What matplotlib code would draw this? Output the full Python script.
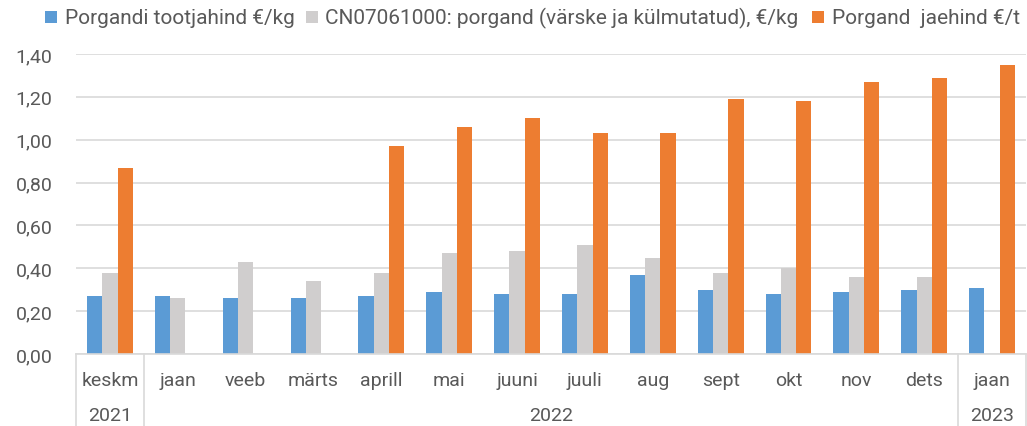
import matplotlib
matplotlib.use("Agg")
import matplotlib.pyplot as plt
import matplotlib.patches as mpatches
import matplotlib.transforms as mtransforms
import numpy as np

months = ["keskm", "jaan", "veeb", "märts", "aprill", "mai", "juuni", "juuli",
          "aug", "sept", "okt", "nov", "dets", "jaan"]
years = ["2021", "2022", "2023"]
year_centers = [0, 6.5, 13]
year_bounds = [-0.5, 0.5, 12.5, 13.5]

producer = [0.27, 0.27, 0.26, 0.26, 0.27, 0.29, 0.28, 0.28, 0.37, 0.30, 0.28, 0.29, 0.30, 0.31]
cn_price = [0.38, 0.26, 0.43, 0.34, 0.38, 0.47, 0.48, 0.51, 0.45, 0.38, 0.40, 0.36, 0.36, np.nan]
retail = [0.87, np.nan, np.nan, np.nan, 0.97, 1.06, 1.10, 1.03, 1.03, 1.19, 1.18, 1.27, 1.29, 1.35]

series_names = ["Porgandi tootjahind €/kg",
                "CN07061000: porgand (värske ja külmutatud), €/kg",
                "Porgand  jaehind €/t"]
colors = ["#5B9BD5", "#D0CECE", "#ED7D31"]

plt.rcParams['font.family'] = ['Roboto', 'DejaVu Sans']
txt = "#595959"
grid = "#D9D9D9"

W, H = 1027, 427
fig = plt.figure(figsize=(W / 100, H / 100), dpi=100)
ax = fig.add_axes([76 / W, 72 / H, 950 / W, 300 / H])

x = np.arange(len(months))
w = 0.225
for off, vals, c in zip([-w, 0, w], [producer, cn_price, retail], colors):
    ax.bar(x + off, vals, width=w, color=c, linewidth=0, zorder=3)

ax.set_xlim(-0.5, 13.5)
ax.set_ylim(0, 1.4)
ax.set_yticks(np.arange(0, 1.41, 0.2))
ax.set_yticklabels([f"{v:.2f}".replace(".", ",") for v in np.arange(0, 1.41, 0.2)])
ax.tick_params(axis='y', length=0, pad=17, labelsize=14, labelcolor=txt)
ax.set_xticks([])
ax.grid(axis='y', color=grid, linewidth=1.2, zorder=0)
for s in ['top', 'right', 'left']:
    ax.spines[s].set_visible(False)
ax.spines['bottom'].set_color(grid)
ax.spines['bottom'].set_linewidth(1.2)
ax.spines['bottom'].set_zorder(4)

trans = mtransforms.blended_transform_factory(ax.transData, ax.transAxes)
for xi, m in zip(x, months):
    ax.text(xi, -26 / 300, m, transform=trans, ha='center', va='center',
            fontsize=14, color=txt)
for xc, y in zip(year_centers, years):
    ax.text(xc, -61 / 300, y, transform=trans, ha='center', va='center',
            fontsize=14, color=txt)
for xb in year_bounds:
    ax.plot([xb, xb], [0, -0.26], transform=trans, color=grid, linewidth=1.2,
            clip_on=False)

# Legend (manually placed entries, pixel positions)
sq_x = [45, 306, 812]
txt_x = [65, 325, 832]
for sx, tx, c, name in zip(sq_x, txt_x, colors, series_names):
    fig.patches.append(mpatches.Rectangle((sx / W, (H - 24) / H), 12 / W, 12 / H,
                                          transform=fig.transFigure, color=c,
                                          linewidth=0))
    fig.text(tx / W, (H - 18) / H, name, ha='left', va='center',
             fontsize=15, color=txt)

fig.savefig("out.png", dpi=100)
